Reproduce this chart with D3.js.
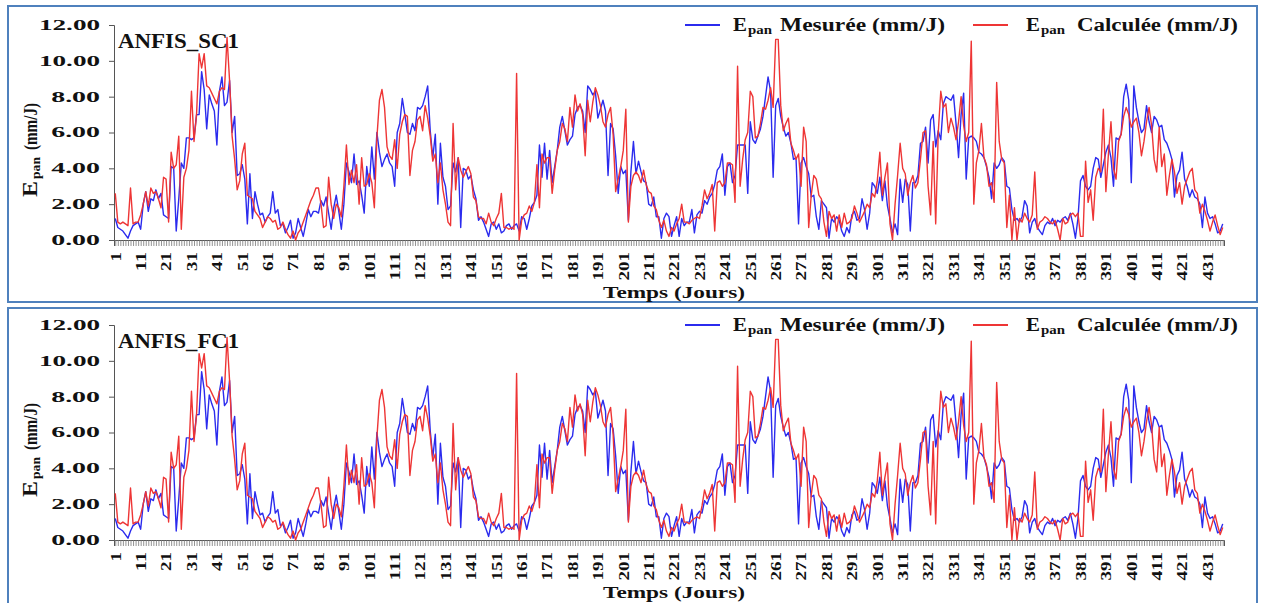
<!DOCTYPE html>
<html>
<head>
<meta charset="utf-8">
<script src="https://cdn.jsdelivr.net/npm/d3@7"></script>
<style>
  body { margin: 0; background: #fff; }
  text { font-family: "Liberation Serif", "Times New Roman", serif; font-weight: bold; fill: #111; }
</style>
</head>
<body>
<svg id="chart" width="1263" height="603"></svg>
<script>
// Daily pan evaporation (mm/day), measured series
const measured = [
  1.2, 0.7, 0.6, 0.5, 0.3, 0.1, 0.5, 0.8, 0.9, 1.0,
  0.6, 2.0, 2.7, 1.6, 2.3, 2.2, 2.8, 2.3, 2.6, 1.4,
  1.3, 1.2, 4.1, 4.0, 0.5, 2.3, 4.3, 4.0, 5.7, 5.7,
  5.6, 5.7, 7.0, 7.0, 9.4, 8.4, 6.2, 8.1, 7.6, 7.2,
  5.3, 8.3, 9.1, 7.5, 7.7, 8.9, 6.0, 6.9, 3.6, 3.7,
  4.2, 3.4, 0.9, 3.7, 1.2, 2.7, 2.0, 1.4, 1.5, 1.0,
  1.3, 1.5, 2.7, 1.5, 1.7, 0.8, 0.9, 0.4, 0.7, 1.1,
  0.1, 0.4, 1.2, 0.7, 0.2, 0.9, 1.7, 1.3, 1.6, 1.6,
  1.5, 2.2, 1.9, 2.4, 1.5, 0.6, 1.8, 2.5, 1.6, 0.6,
  2.0, 4.3, 3.8, 3.2, 4.8, 3.1, 3.3, 2.5, 1.5, 4.1,
  3.0, 5.2, 3.4, 6.0, 4.9, 4.1, 4.5, 4.8, 4.3, 4.1,
  3.0, 6.0, 6.5, 7.9, 7.0, 6.0, 5.9, 6.5, 6.1, 7.4,
  7.3, 7.5, 8.0, 8.6, 6.1, 4.6, 5.9, 2.0, 5.4, 3.5,
  3.0, 1.7, 1.9, 4.3, 3.8, 4.6, 0.7, 4.0, 3.9, 3.4,
  3.6, 2.8, 2.3, 1.1, 1.3, 1.0, 0.6, 0.2, 0.9, 1.0,
  0.6, 0.9, 0.4, 0.5, 0.8, 0.9, 0.6, 0.8, 0.9, 0.5,
  1.3, 1.2, 0.6, 1.2, 1.9, 2.1, 2.5, 5.3, 3.5, 5.4,
  3.4, 5.0, 3.2, 4.1, 5.0, 6.3, 6.9, 6.1, 5.3, 5.6,
  5.8, 7.0, 7.4, 7.5, 7.2, 6.0, 8.6, 8.4, 8.1, 8.3,
  6.8, 7.3, 7.8, 7.2, 3.6, 6.5, 6.2, 4.7, 2.6, 4.1,
  3.7, 3.9, 1.1, 3.8, 5.5, 3.7, 4.4, 3.8, 3.3, 3.2,
  2.0, 1.9, 2.4, 1.3, 1.3, 0.1, 1.2, 1.5, 1.3, 0.2,
  0.8, 1.3, 0.2, 1.2, 0.8, 1.0, 1.0, 1.7, 0.4, 1.4,
  1.6, 1.5, 2.2, 2.0, 2.4, 2.6, 3.1, 3.9, 4.1, 4.8,
  2.5, 4.1, 4.3, 3.2, 3.6, 5.3, 5.3, 5.3, 5.3, 2.6,
  6.6, 5.6, 5.4, 5.8, 6.2, 6.9, 8.0, 9.1, 8.3, 3.5,
  7.5, 7.9, 6.9, 6.3, 5.8, 6.0, 5.4, 4.5, 4.6, 0.9,
  4.3, 4.6, 4.1, 3.7, 2.4, 2.5, 1.3, 0.6, 2.2, 2.0,
  1.8, 0.1, 1.2, 1.0, 1.3, 1.1, 0.5, 0.2, 0.7, 0.4,
  1.4, 1.6, 1.1, 1.2, 2.3, 1.7, 0.6, 1.5, 3.2, 3.0,
  2.6, 3.5, 2.2, 3.3, 1.9, 1.2, 0.4, 0.9, 0.3, 3.4,
  2.1, 3.4, 3.1, 0.5, 3.2, 3.2, 3.6, 5.4, 5.5, 6.3,
  4.3, 6.7, 7.0, 5.2, 6.1, 5.6, 7.6, 8.0, 7.9, 7.8,
  8.1, 6.5, 4.6, 7.0, 8.2, 3.4, 5.7, 5.8, 5.7, 5.5,
  4.9, 4.8, 4.6, 4.1, 3.5, 2.3, 4.3, 4.0, 4.2, 4.6,
  4.4, 3.0, 2.9, 1.7, 1.1, 1.2, 1.0, 1.3, 2.2, 1.9,
  0.4, 1.0, 1.2, 0.7, 0.5, 0.3, 0.8, 1.0, 0.9, 1.2,
  0.8, 1.1, 1.0, 1.2, 1.3, 1.1, 1.5, 0.9, 0.1, 1.2,
  3.3, 3.6, 3.0, 2.8, 3.0, 4.0, 4.6, 4.5, 3.5, 4.2,
  4.9, 5.3, 4.6, 3.0, 5.7, 5.6, 5.9, 8.0, 8.7, 7.8,
  3.2, 8.6, 7.4, 6.6, 6.0, 6.2, 7.5, 6.6, 6.0, 6.9,
  6.7, 6.3, 6.4, 5.6, 5.4, 5.0, 4.5, 2.4, 3.6, 3.9,
  4.9, 3.4, 3.0, 2.4, 2.8, 2.4, 2.3, 2.0, 0.7, 2.4,
  1.5, 1.2, 1.3, 0.9, 0.4, 0.5, 0.9
];

// Daily pan evaporation (mm/day), model output
const calculated = [
  2.6, 1.0, 0.9, 1.0, 0.9, 0.8, 2.9, 0.9, 1.0, 1.0,
  1.4, 2.0, 2.7, 1.9, 2.9, 2.6, 2.7, 2.3, 1.8, 3.5,
  3.4, 1.0, 4.9, 4.0, 4.2, 5.8, 0.6, 3.5, 4.0, 5.0,
  8.3, 5.5, 7.0, 10.4, 9.6, 10.4, 8.6, 8.5, 8.2, 7.9,
  7.6, 8.3, 8.5, 8.4, 11.3, 8.9, 5.8, 4.5, 2.8, 3.3,
  4.8, 5.4, 2.5, 2.4, 2.3, 1.6, 1.4, 1.2, 0.7, 1.0,
  1.3, 1.2, 1.0, 1.1, 0.6, 0.7, 1.0, 0.6, 0.3, 0.1,
  0.5, 0.0, 0.4, 0.6, 1.0, 1.4, 1.8, 2.2, 2.5, 2.9,
  2.9, 2.0, 0.7, 0.8, 3.5, 2.0, 1.2, 2.0, 1.8, 1.3,
  3.0, 5.3, 3.1, 3.9, 3.2, 4.2, 2.0, 4.6, 3.0, 3.1,
  3.7, 3.2, 1.8, 5.7, 7.8, 8.4, 7.4, 5.2, 4.7, 4.5,
  5.6, 4.0, 5.9, 6.6, 7.0, 6.9, 3.6, 5.0, 5.5, 6.7,
  6.9, 6.1, 7.5, 6.8, 5.8, 4.4, 4.8, 3.2, 4.3, 2.8,
  2.0, 1.0, 0.8, 6.5, 2.8, 4.6, 3.9, 3.5, 3.8, 4.1,
  3.7, 2.4, 2.2, 1.3, 1.2, 1.2, 0.9, 1.5, 1.0, 0.8,
  1.2, 1.5, 2.6, 0.7, 0.7, 0.6, 0.7, 0.6, 9.3, 0.0,
  1.1, 1.4, 1.5, 1.9, 1.6, 2.1, 4.2, 1.8, 4.8, 4.3,
  4.6, 4.6, 2.6, 3.9, 5.0, 5.5, 6.5, 6.2, 5.5, 7.4,
  6.3, 8.1, 7.2, 7.6, 7.0, 4.7, 7.8, 6.6, 7.7, 8.5,
  8.1, 7.5, 6.6, 6.3, 7.0, 7.4, 5.9, 2.7, 3.4, 4.1,
  5.0, 7.3, 1.0, 3.0, 3.6, 3.8, 3.6, 3.2, 3.9, 3.1,
  2.7, 2.6, 1.9, 1.7, 1.1, 0.7, 1.1, 0.5, 0.2, 0.7,
  0.5, 0.9, 1.2, 2.0, 1.0, 1.0, 0.9, 1.1, 1.2, 1.3,
  1.2, 1.9, 2.8, 2.3, 2.6, 3.1, 0.5, 3.2, 3.3, 3.0,
  3.2, 4.3, 4.3, 4.2, 2.1, 9.7, 3.0, 4.5, 5.6, 6.0,
  8.3, 8.0, 5.7, 5.8, 6.5, 7.4, 7.3, 7.8, 8.5, 7.4,
  11.2, 11.2, 7.5, 6.1, 6.5, 6.8, 5.4, 5.0, 4.5, 4.8,
  3.0, 6.3, 5.5, 0.7, 2.5, 3.6, 3.4, 2.5, 2.3, 1.0,
  0.2, 1.6, 1.2, 1.4, 0.5, 1.4, 0.7, 1.5, 0.9, 1.0,
  1.2, 1.9, 1.5, 1.0, 1.3, 1.6, 2.0, 1.8, 2.6, 2.4,
  3.3, 4.9, 2.5, 3.5, 4.3, 0.9, 0.0, 2.0, 3.6, 5.4,
  4.0, 3.7, 2.5, 3.2, 3.6, 2.9, 3.2, 4.5, 6.0, 6.1,
  3.0, 1.4, 5.5, 0.9, 6.0, 8.3, 7.4, 7.6, 6.0, 6.8,
  6.3, 5.6, 6.6, 8.0, 6.4, 5.5, 6.0, 11.1, 2.0, 4.3,
  5.0, 6.5, 4.6, 4.2, 3.0, 3.2, 2.1, 8.8, 5.5, 4.5,
  4.3, 0.7, 2.5, 0.0, 1.8, 0.0, 1.2, 1.0, 1.5, 1.2,
  1.0, 1.4, 3.8, 0.6, 1.0, 1.1, 1.3, 1.2, 1.0, 0.9,
  1.1, 0.6, 0.0, 1.2, 0.9, 1.0, 1.4, 1.5, 1.3, 1.5,
  0.2, 0.2, 4.4, 2.1, 2.8, 1.1, 3.5, 4.0, 3.8, 7.3,
  2.7, 4.8, 6.6, 4.0, 3.4, 5.5, 5.9, 6.9, 7.4, 7.0,
  6.3, 6.6, 6.8, 6.0, 4.7, 5.5, 6.6, 7.4, 6.4, 4.5,
  3.8, 6.3, 4.1, 4.8, 2.5, 3.6, 4.5, 3.8, 2.6, 3.2,
  2.0, 3.0, 3.4, 3.8, 4.0, 2.8, 2.6, 1.5, 2.0, 1.6,
  1.1, 0.5, 1.0, 1.4, 0.8, 0.3, 0.7
];

const panelTitles = ["ANFIS_SC1", "ANFIS_FC1"];
const yTickValues = [0, 2, 4, 6, 8, 10, 12];
const days = d3.range(1, measured.length + 1);

const svg = d3.select("#chart");
const BLUE = "#2b2bee";
const RED = "#ee3535";

panelTitles.forEach((title, p) => {
  const oy = p * 300;
  const g = svg.append("g");

  // panel frame
  g.append("rect")
    .attr("x", 8).attr("y", oy + (p === 0 ? 6 : 8))
    .attr("width", 1249).attr("height", p === 0 ? 296 : 296)
    .attr("fill", "none").attr("stroke", "#4f81bd").attr("stroke-width", 2);

  const x = d3.scaleLinear().domain([0.5, days.length + 0.5]).range([114, 1224]);
  const y = d3.scaleLinear().domain([0, 12]).range([oy + 240, oy + 25]);

  // y axis
  const yAxis = g.append("g").attr("transform", "translate(114,0)")
    .call(d3.axisLeft(y).tickValues(yTickValues).tickSize(5).tickPadding(9)
      .tickFormat(d => d.toFixed(2)));
  yAxis.select(".domain").attr("stroke", "#555");
  yAxis.selectAll(".tick line").attr("stroke", "#555");
  yAxis.selectAll(".tick text")
    .style("font-size", "14px")
    .attr("textLength", d => d.toFixed(2).length * 12.2)
    .attr("lengthAdjust", "spacingAndGlyphs");

  // x axis (one tick per day, label every 10 days)
  const xAxis = g.append("g").attr("transform", `translate(0,${oy + 240})`)
    .call(d3.axisBottom(x).tickValues(days).tickSize(6)
      .tickFormat(d => (d - 1) % 10 === 0 ? d : ""));
  xAxis.select(".domain").attr("stroke", "#555");
  xAxis.selectAll(".tick line").attr("stroke", "#777").attr("stroke-width", 0.8);
  xAxis.selectAll(".tick text")
    .filter(d => (d - 1) % 10 === 0)
    .attr("transform", "rotate(-90)")
    .attr("text-anchor", "end")
    .attr("x", -12).attr("y", 0).attr("dy", "0.35em")
    .style("font-size", "14px")
    .attr("textLength", d => String(d).length * 9.5)
    .attr("lengthAdjust", "spacingAndGlyphs");

  // series lines
  const line = d3.line().x((d, i) => x(i + 1)).y(d => y(d));
  g.append("path").datum(measured)
    .attr("d", line).attr("fill", "none")
    .attr("stroke", BLUE).attr("stroke-width", 1.4).attr("stroke-linejoin", "round");
  g.append("path").datum(calculated)
    .attr("d", line).attr("fill", "none")
    .attr("stroke", RED).attr("stroke-width", 1.4).attr("stroke-linejoin", "round");

  // panel title
  g.append("text").attr("x", 118).attr("y", oy + 48)
    .style("font-size", "22px").text(title)
    .attr("textLength", 121).attr("lengthAdjust", "spacingAndGlyphs");

  // y axis title: E_pan (mm/J)
  const yt = g.append("g").attr("transform", `translate(0,${oy + 150}) rotate(-90)`);
  yt.append("text").attr("x", -47).attr("y", 37).style("font-size", "20px")
    .text("E").attr("textLength", 16).attr("lengthAdjust", "spacingAndGlyphs");
  yt.append("text").attr("x", -29).attr("y", 40).style("font-size", "12px")
    .text("pan").attr("textLength", 22).attr("lengthAdjust", "spacingAndGlyphs");
  yt.append("text").attr("x", 0).attr("y", 37).style("font-size", "18px")
    .text("(mm/J)").attr("textLength", 47).attr("lengthAdjust", "spacingAndGlyphs");

  // x axis title
  g.append("text").attr("x", 674).attr("y", oy + 298)
    .attr("text-anchor", "middle").style("font-size", "16px")
    .text("Temps (Jours)").attr("textLength", 142).attr("lengthAdjust", "spacingAndGlyphs");

  // legend
  const legend = [
    { color: BLUE, x0: 685, ex: 733, px: 748, pl: 24, tx: 780, label: "Mesurée (mm/J)", tl: 165 },
    { color: RED, x0: 973, ex: 1026, px: 1041, pl: 24, tx: 1077, label: "Calculée (mm/J)", tl: 161 }
  ];
  legend.forEach(l => {
    g.append("line").attr("x1", l.x0).attr("x2", l.x0 + 35)
      .attr("y1", oy + 25).attr("y2", oy + 25)
      .attr("stroke", l.color).attr("stroke-width", 2);
    g.append("text").attr("x", l.ex).attr("y", oy + 31).style("font-size", "18px")
      .text("E").attr("textLength", 14).attr("lengthAdjust", "spacingAndGlyphs");
    g.append("text").attr("x", l.px).attr("y", oy + 34).style("font-size", "12px")
      .text("pan").attr("textLength", l.pl).attr("lengthAdjust", "spacingAndGlyphs");
    g.append("text").attr("x", l.tx).attr("y", oy + 31).style("font-size", "18px")
      .text(l.label).attr("textLength", l.tl).attr("lengthAdjust", "spacingAndGlyphs");
  });
});
</script>
</body>
</html>
